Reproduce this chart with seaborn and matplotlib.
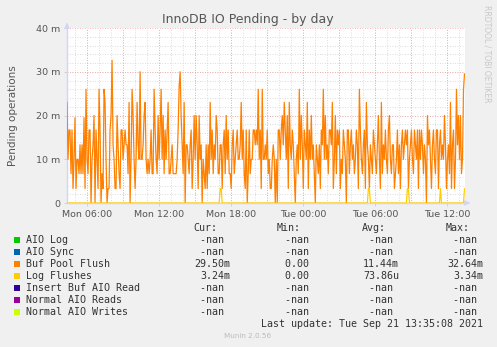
import numpy as np
import pandas as pd
import matplotlib
matplotlib.use("Agg")
import matplotlib.pyplot as plt
import seaborn as sns

# ---- data (values in milli-operations, 5-minute samples from Mon 04:20) ----
start_hour = 4 + 20 / 60.0
step_hours = 5 / 60.0
buf_pool_flush = [
    23, 10, 16.7, 16.7, 6.7, 16.7, 3.3, 10, 19.5, 3.3,
    10, 10, 6.7, 13.3, 6.7, 13.3, 6.7, 19.5, 3.3, 26,
    10, 6.7, 16.7, 16.7, 0, 10, 13.3, 20, 0, 16.7,
    10, 3.3, 26, 16.7, 0, 6.7, 3.3, 26, 23, 10,
    0, 3.3, 3.3, 16.7, 20, 32.6, 13.3, 10, 3.3, 3.3,
    20, 13.3, 6.7, 3.3, 16.7, 16.7, 10, 13.3, 16.7, 13.3,
    13.3, 6.7, 23, 0, 10, 26, 20, 10, 3.3, 10,
    23, 13.3, 10, 30, 10, 10, 13.3, 20, 23, 10,
    6.7, 10, 6.7, 10, 16.7, 6.7, 6.7, 26, 16.7, 10,
    6.7, 20, 10, 16.7, 26, 10, 20, 6.7, 16.7, 10,
    16.7, 23, 6.7, 6.7, 10, 13.3, 6.7, 6.7, 6.7, 6.7,
    10, 16.7, 26.7, 30, 20, 13.3, 6.7, 23, 0, 13.3,
    13.3, 10, 6.7, 13.3, 16.7, 3.3, 10, 20, 10, 20,
    13.3, 3.3, 20, 10, 13.3, 0, 10, 6.7, 3.3, 13.3,
    3.3, 13.3, 6.7, 23, 10, 16.7, 6.7, 13.3, 10, 20,
    16.7, 6.7, 6.7, 13.3, 13.3, 3.3, 13.3, 16.7, 6.7, 20,
    10, 16.7, 6.7, 6.7, 3.3, 13.3, 16.7, 6.7, 10, 13.3,
    16.7, 10, 10, 13.3, 23, 10, 16.7, 6.7, 3.3, 16.7,
    0, 6.7, 16.7, 6.7, 10, 10, 16.7, 16.7, 13.3, 16.7,
    13.3, 26, 10, 16.7, 3.3, 26, 10, 10, 13.3, 10,
    16.7, 6.7, 10, 3.3, 3.3, 10, 13.3, 10, 0, 10,
    0, 16.7, 16.7, 10, 16.7, 20, 13.3, 23, 16.7, 10,
    20, 3.3, 23, 13.3, 10, 16.7, 13.3, 6.7, 0, 10,
    13.3, 6.7, 26, 10, 20, 13.3, 3.3, 16.7, 13.3, 10,
    23, 3.3, 16.7, 10, 20, 10, 13.3, 6.7, 0, 13.3,
    10, 6.7, 13.3, 3.3, 16.7, 13.3, 26, 10, 20, 10,
    13.3, 6.7, 16.7, 16.7, 13.3, 23, 3.3, 10, 20, 6.7,
    16.7, 13.3, 16.7, 3.3, 10, 6.7, 16.7, 13.3, 10, 0,
    16.7, 16.7, 6.7, 13.3, 16.7, 10, 13.3, 6.7, 10, 16.7,
    13.3, 3.3, 26, 16.7, 10, 6.7, 13.3, 16.7, 3.3, 23,
    13.3, 10, 3.3, 13.3, 10, 6.7, 16.7, 13.3, 10, 6.7,
    13.3, 20, 10, 3.3, 23, 6.7, 13.3, 10, 16.7, 10,
    6.7, 16.7, 20, 10, 6.7, 13.3, 13.3, 3.3, 6.7, 10,
    16.7, 6.7, 13.3, 3.3, 13.3, 16.7, 10, 13.3, 16.7, 13.3,
    16.7, 3.3, 10, 13.3, 16.7, 10, 6.7, 16.7, 13.3, 10,
    16.7, 3.3, 16.7, 10, 16.7, 13.3, 6.7, 13.3, 10, 0,
    20, 13.3, 16.7, 10, 3.3, 13.3, 16.7, 10, 6.7, 16.7,
    16.7, 3.3, 13.3, 16.7, 10, 13.3, 10, 20, 13.3, 3.3,
    10, 13.3, 6.7, 23, 3.3, 13.3, 16.7, 3.3, 10, 26,
    13.3, 20, 10, 20, 6.7, 10, 26, 29.5,
]
# Log Flushes: mostly zero, short spikes (sample index, value)
log_flush_spikes = [(153, 3.3), (154, 3.3), (301, 3.3), (302, 3.3),
                    (340, 3.3), (341, 3.3), (373, 3.3), (397, 3.24)]

series_names = ["AIO Log", "AIO Sync", "Buf Pool Flush", "Log Flushes",
                "Insert Buf AIO Read", "Normal AIO Reads", "Normal AIO Writes"]
series_colors = ["#00cc00", "#0066b3", "#ff8000", "#ffcc00",
                 "#330099", "#990099", "#ccff00"]
cur_vals = ["-nan ", "-nan ", "29.50m", "3.24m", "-nan ", "-nan ", "-nan "]
min_vals = ["-nan ", "-nan ", "0.00 ", "0.00 ", "-nan ", "-nan ", "-nan "]
avg_vals = ["-nan ", "-nan ", "11.44m", "73.86u", "-nan ", "-nan ", "-nan "]
max_vals = ["-nan ", "-nan ", "32.64m", "3.34m", "-nan ", "-nan ", "-nan "]

tick_hours = [6, 12, 18, 24, 30, 36]
tick_labels = ["Mon 06:00", "Mon 12:00", "Mon 18:00", "Tue 00:00", "Tue 06:00", "Tue 12:00"]
y_ticks = [0, 10, 20, 30, 40]
y_labels = ["0", "10 m", "20 m", "30 m", "40 m"]

# ---- build frames ----
n = len(buf_pool_flush)
hours = start_hour + step_hours * np.arange(n)
log_flushes = np.zeros(n)
for i, v in log_flush_spikes:
    log_flushes[i] = v
df = pd.DataFrame({"hour": hours, "buf": buf_pool_flush, "log": log_flushes})

# ---- figure ----
W, H = 497, 347
fig = plt.figure(figsize=(W / 100, H / 100), dpi=100, facecolor="#f0f0f0")
L, R, T, B = 67, 465, 28, 203
ax = fig.add_axes([L / W, 1 - B / H, (R - L) / W, (B - T) / H])
ax.set_facecolor("white")

sns.lineplot(data=df, x="hour", y="buf", color="#ff8000", lw=0.9, ax=ax, zorder=3)
sns.lineplot(data=df, x="hour", y="log", color="#ffcc00", lw=0.9, ax=ax, zorder=4)

ax.set_xlim(start_hour, start_hour + step_hours * (n - 0.5))
ax.set_ylim(0, 40)

# grids
minor_x = np.arange(5, 38, 1)
major_x = np.arange(6, 38, 3)
for x in minor_x:
    ax.axvline(x, color="#d0d0d0", lw=0.6, ls=(0, (1, 2)), zorder=1)
for x in major_x:
    ax.axvline(x, color="#f0a0a0", lw=0.6, ls=(0, (1, 2)), zorder=1.5)
for y in np.arange(2, 40, 2):
    ax.axhline(y, color="#d0d0d0", lw=0.6, ls=(0, (1, 2)), zorder=1)
for y in np.arange(10, 41, 10):
    ax.axhline(y, color="#f0a0a0", lw=0.6, ls=(0, (1, 2)), zorder=1.5)

for s in ["top", "right"]:
    ax.spines[s].set_visible(False)
ax.spines["left"].set_color("#cfd6f8")
ax.spines["bottom"].set_color("#cfd6f8")
ax.spines["left"].set_linewidth(1)
ax.spines["bottom"].set_linewidth(1)

ax.set_xticks(tick_hours)
ax.set_xticklabels(tick_labels)
ax.set_yticks(y_ticks)
ax.set_yticklabels(y_labels)
ax.tick_params(axis="both", labelsize=6.8, colors="#555555", length=2, width=0.6, pad=3)
ax.tick_params(axis="both", color="#cccccc")
ax.set_xlabel("")
ax.set_ylabel("Pending operations", fontsize=7.5, color="#555555", labelpad=13)

# arrows
ax.annotate("", xy=(L / W, 1 - 20 / H), xytext=(L / W, 1 - T / H), xycoords="figure fraction",
            arrowprops=dict(arrowstyle="-|>", color="#cfd6f8", lw=1, mutation_scale=7))
ax.annotate("", xy=(473 / W, 1 - B / H), xytext=(R / W, 1 - B / H), xycoords="figure fraction",
            arrowprops=dict(arrowstyle="-|>", color="#cfd6f8", lw=1, mutation_scale=7))

# title and side text
fig.text(248 / W, 1 - 19 / H, "InnoDB IO Pending - by day", ha="center", va="center",
         fontsize=9, color="#555555")
fig.text(487 / W, 1 - 5 / H, "RRDTOOL / TOBI OETIKER", ha="center", va="top",
         rotation=270, fontsize=5.5, color="#c8c8c8")

# legend table
mono = "DejaVu Sans Mono"
fs = 7.2
def ty(y):
    return 1 - y / H
fig.text(217 / W, ty(228), "Cur:", ha="right", va="center", family=mono, fontsize=fs, color="#333333")
fig.text(301 / W, ty(228), "Min:", ha="right", va="center", family=mono, fontsize=fs, color="#333333")
fig.text(386 / W, ty(228), "Avg:", ha="right", va="center", family=mono, fontsize=fs, color="#333333")
fig.text(470 / W, ty(228), "Max:", ha="right", va="center", family=mono, fontsize=fs, color="#333333")
for i, name in enumerate(series_names):
    y = 240 + 12 * i
    fig.patches.append(plt.Rectangle((14 / W, ty(y) - 2.7 / H), 5.5 / W, 5.5 / H,
                                     transform=fig.transFigure, facecolor=series_colors[i],
                                     edgecolor="none"))
    fig.text(26 / W, ty(y), name, ha="left", va="center", family=mono, fontsize=fs, color="#333333")
    for col_x, vals in [(230, cur_vals), (315, min_vals), (399, avg_vals), (483, max_vals)]:
        fig.text(col_x / W, ty(y), vals[i], ha="right", va="center", family=mono,
                 fontsize=fs, color="#333333")
fig.text(483 / W, ty(324), "Last update: Tue Sep 21 13:35:08 2021", ha="right", va="center",
         family=mono, fontsize=fs, color="#333333")
fig.text(248 / W, ty(336), "Munin 2.0.56", ha="center", va="center", fontsize=5.2, color="#bbbbbb")

fig.savefig("out.png", dpi=100, facecolor=fig.get_facecolor())
